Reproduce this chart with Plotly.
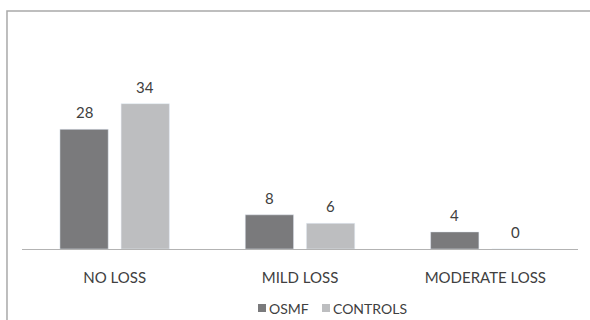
import plotly.graph_objects as go

categories = ["NO LOSS", "MILD LOSS", "MODERATE LOSS"]
osmf = [28, 8, 4]
controls = [34, 6, 0]
series_names = ["OSMF", "CONTROLS"]
series_colors = ["#7a7a7c", "#bdbec0"]

FONT = "Lato, Open Sans, sans-serif"
TEXT = "#404040"

# plot area spans 556 px wide and 171 px tall; helpers map pixel offsets to paper units
PW, PH = 556.0, 171.0
def px_x(px):
    return (px - 22) / PW
def px_y(py):
    return (249 - py) / PH

fig = go.Figure()
for name, vals, color in zip(series_names, [osmf, controls], series_colors):
    fig.add_trace(go.Bar(name=name, x=categories, y=vals, marker_color=color,
                         showlegend=False))

# value labels above each bar of the grouped pair
annotations = []
for vals, shift in zip([osmf, controls], [-30.5, 30.5]):
    for cat, v in zip(categories, vals):
        annotations.append(dict(x=cat, y=v, xref="x", yref="y", text=str(v),
                                showarrow=False, xshift=shift, yshift=17,
                                yanchor="middle", font=dict(family=FONT, size=15, color=TEXT)))

# legend drawn as small square keys with labels
shapes = [dict(type="path", xref="paper", yref="paper",
               path="M -0.027,-0.5 L -0.027,1.392 L 1.1,1.392",
               line=dict(color="#a9a9a9", width=1.5))]
key_x = [258, 322]
for name, color, kx in zip(series_names, series_colors, key_x):
    shapes.append(dict(type="rect", xref="paper", yref="paper",
                       x0=px_x(kx), x1=px_x(kx + 8), y0=px_y(312), y1=px_y(304),
                       fillcolor=color, line=dict(width=0)))
    annotations.append(dict(x=px_x(kx + 9), y=px_y(308), xref="paper", yref="paper",
                            text=name, showarrow=False, xanchor="left", yanchor="middle",
                            font=dict(family=FONT, size=14, color=TEXT)))

fig.update_layout(
    width=590, height=320,
    margin=dict(l=22, r=12, t=78, b=71, autoexpand=False),
    paper_bgcolor="white", plot_bgcolor="white",
    barmode="group", bargap=0.34, bargroupgap=0.21,
    font=dict(family=FONT, size=15, color=TEXT),
    showlegend=False,
    xaxis=dict(showline=True, linecolor="#b3b3b3", linewidth=1, ticks="",
               ticklabelstandoff=15, tickfont=dict(family=FONT, size=15, color=TEXT)),
    yaxis=dict(range=[0, 40], visible=False, showgrid=False),
    shapes=shapes,
    annotations=annotations,
)

fig.write_html("out.html")
